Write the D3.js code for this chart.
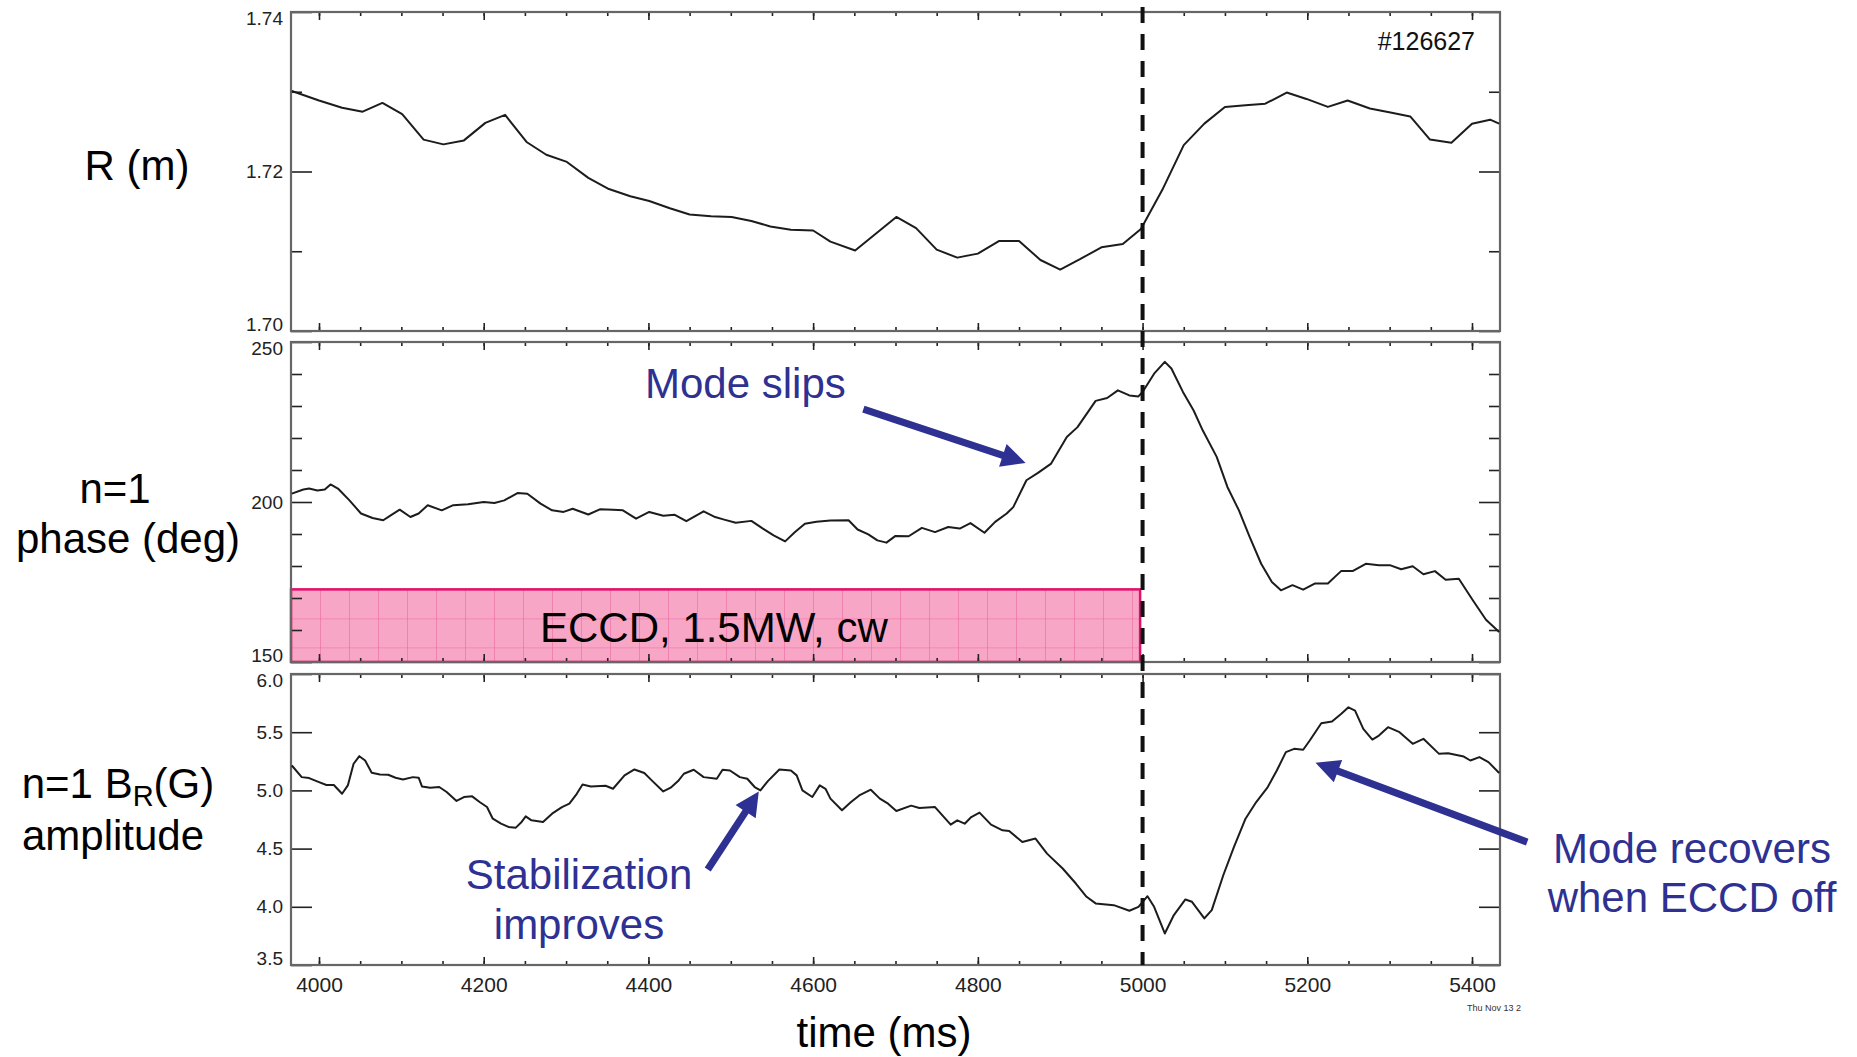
<!DOCTYPE html>
<html>
<head>
<meta charset="utf-8">
<script src="https://cdn.jsdelivr.net/npm/d3@7.9.0/dist/d3.min.js"></script>
<style>
  body { margin: 0; background: #fff; }
  svg { display: block; }
  text { font-family: "Liberation Sans", Arial, Helvetica, sans-serif; }
</style>
</head>
<body>
<svg id="chart" width="1857" height="1057"></svg>
<script>
// shot #126627 : R, n=1 phase, n=1 B_R amplitude vs time (ms)
const rTime = [3967, 4000, 4028, 4053, 4077, 4101, 4127, 4151, 4176, 4202, 4226, 4252, 4276, 4301, 4327, 4352,
  4378, 4401, 4426, 4450, 4476, 4501, 4525, 4548, 4573, 4600, 4621, 4651, 4701, 4725, 4750, 4775, 4800, 4826,
  4850, 4876, 4900, 4924, 4950, 4976, 4998, 5024, 5050, 5075, 5100, 5125, 5149, 5175, 5199, 5225, 5249, 5276,
  5301, 5325, 5349, 5375, 5400, 5422, 5433];
const rVal = [1.7301, 1.7289, 1.7280, 1.7275, 1.7286, 1.7272, 1.7240, 1.7234, 1.7239, 1.7261, 1.7271, 1.7237,
  1.7221, 1.7212, 1.7192, 1.7178, 1.7169, 1.7163, 1.7154, 1.7146, 1.7144, 1.7143, 1.7138, 1.7131, 1.7127, 1.7126,
  1.7112, 1.7101, 1.7143, 1.7129, 1.7102, 1.7092, 1.7097, 1.7113, 1.7113, 1.7089, 1.7077, 1.7090, 1.7105, 1.7109,
  1.7128, 1.7177, 1.7233, 1.7260, 1.7281, 1.7283, 1.7285, 1.7299, 1.7291, 1.7281, 1.7289, 1.7279, 1.7274, 1.7269,
  1.7240, 1.7236, 1.7260, 1.7265, 1.7260];

const phaseTime = [3967, 3981, 3988, 3998, 4007, 4014, 4023, 4037, 4051, 4065, 4078, 4088, 4098, 4111, 4121, 4132,
  4149, 4163, 4181, 4200, 4213, 4225, 4241, 4253, 4269, 4283, 4297, 4308, 4327, 4341, 4357, 4369, 4385, 4401, 4418,
  4432, 4446, 4467, 4481, 4492, 4506, 4525, 4539, 4552, 4566, 4578, 4590, 4604, 4621, 4643, 4654, 4667, 4678, 4689,
  4700, 4716, 4732, 4748, 4764, 4778, 4791, 4808, 4821, 4835, 4843, 4859, 4873, 4889, 4908, 4921, 4943, 4957, 4970,
  4984, 4995, 5000, 5014, 5027, 5035, 5049, 5062, 5073, 5090, 5103, 5117, 5130, 5144, 5157, 5168, 5182, 5195, 5209,
  5225, 5241, 5255, 5271, 5287, 5301, 5314, 5328, 5341, 5355, 5368, 5384, 5401, 5417, 5433];
const phaseVal = [202.6, 203.9, 204.2, 203.6, 203.9, 205.5, 204.2, 200.5, 196.4, 195.0, 194.3, 196.0, 197.6, 195.3,
  196.4, 199.0, 197.4, 199.0, 199.3, 200.0, 199.7, 200.5, 202.8, 202.6, 199.5, 197.4, 196.9, 197.9, 196.1, 197.7,
  197.6, 197.4, 194.8, 196.9, 195.7, 196.0, 194.0, 197.1, 195.3, 194.5, 193.5, 194.1, 191.7, 189.6, 187.7, 190.6,
  193.2, 193.8, 194.2, 194.3, 191.4, 189.9, 188.0, 187.3, 189.4, 189.3, 191.9, 190.6, 192.2, 191.7, 193.4, 190.4,
  193.8, 196.4, 198.4, 206.8, 209.1, 212.0, 220.3, 223.4, 231.6, 232.5, 234.9, 233.3, 233.0, 234.4, 240.1, 243.8,
  241.7, 234.4, 228.6, 222.4, 214.1, 204.7, 197.4, 189.1, 180.7, 175.0, 172.4, 174.0, 172.6, 174.5, 174.5, 178.4,
  178.4, 180.7, 180.2, 180.2, 179.0, 179.9, 177.4, 178.4, 175.7, 176.0, 169.3, 163.2, 159.4];

const ampTime = [3967, 3979, 3988, 4000, 4009, 4018, 4028, 4035, 4042, 4049, 4056, 4064, 4074, 4084, 4093, 4102,
  4114, 4121, 4125, 4135, 4146, 4155, 4167, 4176, 4186, 4195, 4204, 4211, 4221, 4230, 4239, 4246, 4251, 4258, 4272,
  4283, 4295, 4304, 4313, 4320, 4330, 4348, 4357, 4371, 4383, 4395, 4404, 4418, 4427, 4436, 4443, 4455, 4467, 4483,
  4490, 4499, 4511, 4520, 4529, 4536, 4545, 4559, 4573, 4580, 4587, 4599, 4608, 4615, 4621, 4635, 4646, 4656, 4670,
  4681, 4691, 4701, 4719, 4729, 4748, 4767, 4775, 4784, 4792, 4802, 4816, 4830, 4838, 4854, 4870, 4884, 4903, 4919,
  4932, 4943, 4965, 4984, 4995, 5006, 5014, 5027, 5038, 5052, 5060, 5075, 5084, 5098, 5111, 5125, 5138, 5152, 5163,
  5174, 5184, 5195, 5203, 5217, 5230, 5241, 5250, 5258, 5268, 5279, 5287, 5298, 5312, 5328, 5341, 5360, 5371, 5390,
  5398, 5409, 5420, 5433];
const ampVal = [5.214, 5.114, 5.106, 5.071, 5.046, 5.046, 4.971, 5.043, 5.229, 5.294, 5.257, 5.151, 5.137, 5.134,
  5.109, 5.094, 5.114, 5.109, 5.034, 5.023, 5.029, 4.986, 4.909, 4.943, 4.949, 4.900, 4.857, 4.757, 4.714, 4.686,
  4.680, 4.729, 4.777, 4.743, 4.729, 4.800, 4.857, 4.886, 4.971, 5.051, 5.034, 5.040, 5.014, 5.129, 5.180, 5.149,
  5.086, 4.991, 5.023, 5.080, 5.143, 5.177, 5.114, 5.100, 5.177, 5.171, 5.114, 5.100, 5.029, 5.000, 5.080, 5.180,
  5.171, 5.129, 5.000, 4.943, 5.043, 5.014, 4.929, 4.829, 4.900, 4.957, 5.006, 4.929, 4.886, 4.823, 4.869, 4.849,
  4.857, 4.706, 4.743, 4.714, 4.771, 4.809, 4.706, 4.657, 4.651, 4.557, 4.586, 4.457, 4.329, 4.200, 4.086, 4.029,
  4.014, 3.966, 4.000, 4.091, 4.000, 3.771, 3.929, 4.063, 4.043, 3.900, 3.971, 4.271, 4.514, 4.757, 4.900, 5.029,
  5.171, 5.329, 5.357, 5.349, 5.429, 5.577, 5.591, 5.657, 5.714, 5.686, 5.529, 5.437, 5.471, 5.543, 5.500, 5.400,
  5.443, 5.314, 5.320, 5.291, 5.257, 5.286, 5.243, 5.149];

const timeDomain = [3966, 5434];
const xMajorTicks = [4000, 4200, 4400, 4600, 4800, 5000, 5200, 5400];
const xMinorTicks = d3.range(4000, 5401, 50);
const rTicks = [1.70, 1.72, 1.74];
const rMinorTicks = [1.71, 1.73];
const phaseTicks = [150, 200, 250];
const phaseMinorTicks = [160, 170, 180, 190, 210, 220, 230, 240];
const ampTicks = [3.5, 4.0, 4.5, 5.0, 5.5, 6.0];

// ECCD on window and the band it is drawn in
const eccdWindow = [3966, 4997];
const eccdBand = [150, 172.7];
const eccdOff = 5000;

const blue = '#2e3192';
const svg = d3.select('#chart');
const x = d3.scaleLinear().domain(timeDomain).range([291, 1500]);

const panels = [
  { name: 'r', t: rTime, v: rVal, domain: [1.70, 1.74], top: 12, bottom: 331, major: rTicks, minor: rMinorTicks, fmt: d3.format('.2f') },
  { name: 'phase', t: phaseTime, v: phaseVal, domain: [150, 250], top: 342, bottom: 662, major: phaseTicks, minor: phaseMinorTicks, fmt: d3.format('d') },
  { name: 'amp', t: ampTime, v: ampVal, domain: [3.5, 6.0], top: 674, bottom: 965, major: ampTicks, minor: [], fmt: d3.format('.1f') },
];
panels.forEach(p => { p.y = d3.scaleLinear().domain(p.domain).range([p.bottom, p.top]); });

// pink ECCD box with its grid texture (under the axes)
const ph = panels[1];
const bx0 = x(eccdWindow[0]), bx1 = x(eccdWindow[1]);
const by0 = ph.y(eccdBand[1]), by1 = ph.y(eccdBand[0]);
const defs = svg.append('defs');
const pat = defs.append('pattern').attr('id', 'eccdGrid').attr('patternUnits', 'userSpaceOnUse')
  .attr('width', 29).attr('height', 29).attr('x', bx0).attr('y', by0);
pat.append('rect').attr('width', 29).attr('height', 29).attr('fill', '#f8a6c6');
pat.append('path').attr('d', 'M0,0V29M0,0H29').attr('stroke', '#ec6aa0').attr('stroke-width', 1.2);
svg.append('rect').attr('x', bx0).attr('y', by0).attr('width', bx1 - bx0).attr('height', by1 - by0)
  .attr('fill', 'url(#eccdGrid)').attr('stroke', '#e2106c').attr('stroke-width', 2.5);
svg.append('text').attr('x', 540).attr('y', 642).attr('font-size', 42).attr('fill', '#000')
  .text('ECCD, 1.5MW, cw');

// axes
function styleAxis(g) {
  g.select('.domain').remove();
  g.selectAll('.tick line').attr('stroke', '#222').attr('stroke-width', 1.6);
  g.selectAll('.tick text').attr('fill', '#222').attr('font-family', '"Liberation Sans", Arial, sans-serif');
}

panels.forEach((p, i) => {
  const g = svg.append('g');
  // x ticks, top and bottom of every panel
  [['bottom', p.bottom], ['top', p.top]].forEach(([side, yy]) => {
    const ax = side === 'bottom' ? d3.axisBottom(x) : d3.axisTop(x);
    g.append('g').attr('transform', `translate(0,${yy})`)
      .call(ax.tickValues(xMinorTicks).tickSizeInner(-4).tickSizeOuter(0).tickFormat(''))
      .call(styleAxis);
    const ax2 = side === 'bottom' ? d3.axisBottom(x) : d3.axisTop(x);
    const showLab = side === 'bottom' && i === panels.length - 1;
    g.append('g').attr('transform', `translate(0,${yy})`)
      .call(ax2.tickValues(xMajorTicks).tickSizeInner(-8).tickSizeOuter(0).tickPadding(12)
        .tickFormat(showLab ? d3.format('d') : ''))
      .call(styleAxis)
      .call(a => a.selectAll('text').attr('font-size', 21));
  });
  // y ticks, left with labels and mirrored on the right
  const left = g.append('g').attr('transform', `translate(${x.range()[0]},0)`)
    .call(d3.axisLeft(p.y).tickValues(p.major).tickSizeInner(-21).tickSizeOuter(0).tickPadding(8).tickFormat(p.fmt))
    .call(styleAxis);
  left.selectAll('text').attr('font-size', 19)
    .attr('y', d => d === p.domain[1] ? 6 : d === p.domain[0] ? -7 : 0);
  g.append('g').attr('transform', `translate(${x.range()[1]},0)`)
    .call(d3.axisRight(p.y).tickValues(p.major).tickSizeInner(-21).tickSizeOuter(0).tickFormat(''))
    .call(styleAxis);
  if (p.minor.length) {
    g.append('g').attr('transform', `translate(${x.range()[0]},0)`)
      .call(d3.axisLeft(p.y).tickValues(p.minor).tickSizeInner(-11).tickSizeOuter(0).tickFormat(''))
      .call(styleAxis);
    g.append('g').attr('transform', `translate(${x.range()[1]},0)`)
      .call(d3.axisRight(p.y).tickValues(p.minor).tickSizeInner(-11).tickSizeOuter(0).tickFormat(''))
      .call(styleAxis);
  }
  // frame
  g.append('rect').attr('x', x.range()[0]).attr('y', p.top)
    .attr('width', x.range()[1] - x.range()[0]).attr('height', p.bottom - p.top)
    .attr('fill', 'none').attr('stroke', '#666').attr('stroke-width', 2.2);

  // data line
  const pts = p.t.map((t, k) => [t, p.v[k]]);
  g.append('path').datum(pts)
    .attr('d', d3.line().x(d => x(d[0])).y(d => p.y(d[1])))
    .attr('fill', 'none').attr('stroke', '#1c1c1c').attr('stroke-width', 2).attr('stroke-linejoin', 'round');
});

// ECCD off marker
svg.append('line').attr('x1', x(eccdOff)).attr('x2', x(eccdOff))
  .attr('y1', 7).attr('y2', panels[2].bottom)
  .attr('stroke', '#111').attr('stroke-width', 4).attr('stroke-dasharray', '16 11');

// annotation arrows, ends given in each panel's data units
const arrows = [
  { panel: 1, from: [4661, 229.0], to: [4858, 212.2] },
  { panel: 2, from: [4472, 4.32], to: [4534, 4.99] },
  { panel: 2, from: [5467, 4.556], to: [5210, 5.238] },
];
function arrowShape(x1, y1, x2, y2) {
  const dx = x2 - x1, dy = y2 - y1, len = Math.hypot(dx, dy);
  const ux = dx / len, uy = dy / len, nx = -uy, ny = ux;
  const sw = 3.6, hl = 24, hw = 12;
  const bx = x2 - ux * hl, by = y2 - uy * hl;
  return [
    [x1 + nx * sw, y1 + ny * sw], [bx + nx * sw, by + ny * sw], [bx + nx * hw, by + ny * hw], [x2, y2],
    [bx - nx * hw, by - ny * hw], [bx - nx * sw, by - ny * sw], [x1 - nx * sw, y1 - ny * sw]
  ];
}
arrows.forEach(a => {
  const p = panels[a.panel];
  const pts = arrowShape(x(a.from[0]), p.y(a.from[1]), x(a.to[0]), p.y(a.to[1]));
  svg.append('path').attr('d', 'M' + pts.map(q => q.join(',')).join('L') + 'Z').attr('fill', blue);
});

// text
const labels = [
  { t: 'Mode slips', x: 645, y: 398, a: 'start', c: blue },
  { t: 'Stabilization', x: 579, y: 889, a: 'middle', c: blue },
  { t: 'improves', x: 579, y: 939, a: 'middle', c: blue },
  { t: 'Mode recovers', x: 1692, y: 863, a: 'middle', c: blue },
  { t: 'when ECCD off', x: 1692, y: 912, a: 'middle', c: blue },
  { t: 'R (m)', x: 137, y: 180, a: 'middle', c: '#000' },
  { t: 'n=1', x: 115, y: 503, a: 'middle', c: '#000' },
  { t: 'phase (deg)', x: 128, y: 553, a: 'middle', c: '#000' },
  { t: 'amplitude', x: 113, y: 850, a: 'middle', c: '#000' },
  { t: 'time (ms)', x: 884, y: 1047, a: 'middle', c: '#000' },
];
labels.forEach(l => {
  svg.append('text').attr('x', l.x).attr('y', l.y).attr('text-anchor', l.a)
    .attr('font-size', 42).attr('fill', l.c).text(l.t);
});
const br = svg.append('text').attr('x', 118).attr('y', 798).attr('text-anchor', 'middle')
  .attr('font-size', 42).attr('fill', '#000');
br.append('tspan').text('n=1 B');
br.append('tspan').attr('font-size', 29).attr('dy', 8).text('R');
br.append('tspan').attr('dy', -8).text('(G)');

svg.append('text').attr('x', 1475).attr('y', 50).attr('text-anchor', 'end')
  .attr('font-size', 25).attr('fill', '#111').text('#126627');
svg.append('text').attr('x', 1467).attr('y', 1011)
  .attr('font-size', 9).attr('fill', '#333').text('Thu Nov 13 2');
</script>
</body>
</html>
